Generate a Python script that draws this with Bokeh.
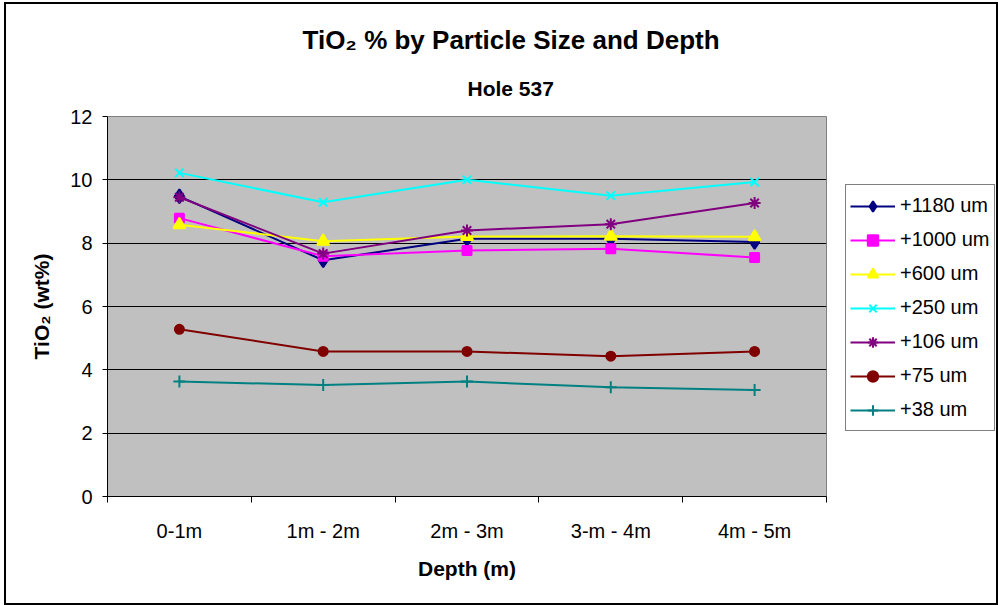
from bokeh.plotting import figure
from bokeh.layouts import row
from bokeh.models import (ColumnDataSource, FixedTicker, Legend, LegendItem,
                          Range1d, Title)
from bokeh.embed import file_html
from bokeh.resources import INLINE

# Depth intervals (x categories)
depths = ["0-1m", "1m - 2m", "2m - 3m", "3-m - 4m", "4m - 5m"]

# TiO2 content (wt%) for each particle-size fraction
size_labels = ["+1180 um", "+1000 um", "+600 um", "+250 um", "+106 um", "+75 um", "+38 um"]
tio2_1180 = [9.48, 7.46, 8.14, 8.14, 8.04]
tio2_1000 = [8.79, 7.59, 7.77, 7.82, 7.55]
tio2_600 = [8.58, 8.06, 8.21, 8.22, 8.20]
tio2_250 = [10.22, 9.29, 10.00, 9.50, 9.93]
tio2_106 = [9.45, 7.67, 8.40, 8.60, 9.27]
tio2_75 = [5.28, 4.58, 4.58, 4.43, 4.58]
tio2_38 = [3.63, 3.52, 3.63, 3.45, 3.36]

y_ticks = [0, 2, 4, 6, 8, 10, 12]

series_values = [tio2_1180, tio2_1000, tio2_600, tio2_250, tio2_106, tio2_75, tio2_38]

# Per-series look: colour, marker, marker size
series_style = [
    ("#000080", "diamond", 14),
    ("#FF00FF", "square", 9),
    ("#FFFF00", "triangle", 12),
    ("#00FFFF", "x", 12),
    ("#800080", "asterisk", 12),
    ("#800000", "circle", 9),
    ("#008080", "cross", 12),
]

FONT = "Liberation Sans"

# category centres on a numeric axis so tick marks can sit between categories
x_pos = [i + 0.5 for i in range(len(depths))]

p = figure(width=821, height=599,
           x_range=Range1d(0, len(depths)), y_range=Range1d(0, 12),
           output_backend="svg", toolbar_location=None,
           min_border_left=101, min_border_right=1,
           min_border_top=112, min_border_bottom=107,
           background_fill_color="#C0C0C0", border_fill_color="white")
p.outline_line_color = "#808080"
p.outline_line_width = 1
p.title.visible = False

# x axis: labels at category centres, tick marks at boundaries
p.xaxis.ticker = FixedTicker(ticks=x_pos, minor_ticks=list(range(len(depths) + 1)))
p.xaxis.major_label_overrides = {x: d for x, d in zip(x_pos, depths)}
p.xaxis.major_tick_in = 0
p.xaxis.major_tick_out = 0
p.xaxis.minor_tick_in = 0
p.xaxis.minor_tick_out = 6
p.xaxis.minor_tick_line_color = "black"
p.xaxis.axis_line_color = "black"
p.xaxis.major_label_standoff = 17
p.xaxis.axis_label = "Depth (m)"
p.xaxis.axis_label_standoff = 12

# y axis
p.yaxis.ticker = FixedTicker(ticks=y_ticks, minor_ticks=[])
p.yaxis.major_tick_in = 0
p.yaxis.major_tick_out = 5
p.yaxis.major_tick_line_color = "black"
p.yaxis.axis_line_color = "black"
p.yaxis.major_label_standoff = 10
p.yaxis.axis_label = "TiO\u2082 (wt%)"
p.yaxis.axis_label_standoff = 14

for ax in (p.xaxis[0], p.yaxis[0]):
    ax.major_label_text_font = FONT
    ax.major_label_text_font_size = "20px"
    ax.major_label_text_color = "black"
    ax.axis_label_text_font = FONT
    ax.axis_label_text_font_size = "21px"
    ax.axis_label_text_font_style = "bold"
    ax.axis_label_text_color = "black"

p.xgrid.visible = False
p.ygrid.ticker = FixedTicker(ticks=y_ticks)
p.ygrid.grid_line_color = "black"
p.ygrid.grid_line_width = 1

source = ColumnDataSource(dict(
    x=x_pos,
    **{f"s{i}": vals for i, vals in enumerate(series_values)}
))

# legend panel to the right of the plot area; its ranges lie away from the
# data so only the legend keys show there
lf = figure(width=169, height=599, output_backend="svg", toolbar_location=None,
            min_border=0, x_axis_type=None, y_axis_type=None,
            x_range=Range1d(100, 101), y_range=Range1d(100, 101),
            background_fill_color="white", border_fill_color="white")
lf.outline_line_color = None
lf.title.visible = False
lf.xgrid.visible = False
lf.ygrid.visible = False

items = []
for i, (label, (color, marker, msize)) in enumerate(zip(size_labels, series_style)):
    p.line("x", f"s{i}", source=source, line_color=color, line_width=2)
    p.scatter("x", f"s{i}", source=source, marker=marker, size=msize,
              fill_color=color, line_color=color, line_width=2)
    key_line = lf.line("x", f"s{i}", source=source, line_color=color, line_width=2)
    key_mark = lf.scatter("x", f"s{i}", source=source, marker=marker, size=msize,
                          fill_color=color, line_color=color, line_width=2)
    items.append(LegendItem(label=label, renderers=[key_line, key_mark]))

legend = Legend(items=items, location=(18, 65),
                border_line_color="black", border_line_width=1,
                background_fill_color="white", background_fill_alpha=1,
                padding=4, margin=0, spacing=1,
                glyph_width=45, glyph_height=26, label_height=33,
                label_standoff=5,
                label_text_font=FONT, label_text_font_size="20px",
                label_text_color="black")
lf.add_layout(legend, "center")

# chart titles: subtitle next to the plot, main title above it
p.add_layout(Title(text="Hole 537", align="left", offset=360, standoff=33,
                   text_font=FONT, text_font_size="21px", text_font_style="bold",
                   text_color="black"), "above")
p.add_layout(Title(text="TiO\u2082 % by Particle Size and Depth", align="left",
                   offset=195, standoff=7,
                   text_font=FONT, text_font_size="26px", text_font_style="bold",
                   text_color="black"), "above")

# whole chart with its outer border
chart = row(p, lf, styles={"border": "2px solid black", "margin-left": "4px",
                           "margin-top": "2px"})

open("out.html", "w").write(file_html(chart, INLINE))
